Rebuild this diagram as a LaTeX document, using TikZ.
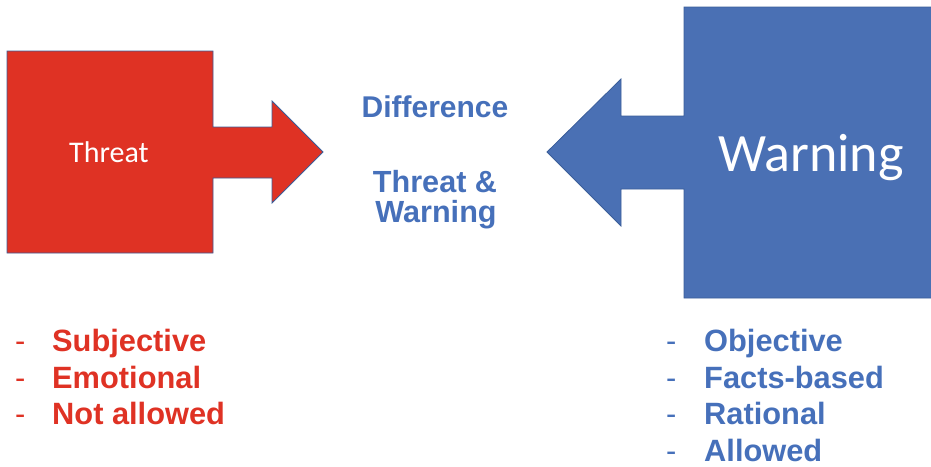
\documentclass[tikz,border=0pt]{standalone}
\usepackage{fontspec}
\setmainfont{Liberation Sans}
\newfontfamily\calib{Carlito}
\definecolor{tred}{HTML}{DF3224}
\definecolor{wblue}{HTML}{4A70B4}
\definecolor{edgeblue}{HTML}{3A5D99}
\definecolor{txtblue}{HTML}{4670BA}
\tikzset{
  shapered/.style={fill=tred, draw=edgeblue, line width=0.8pt, line join=miter},
  shapeblue/.style={fill=wblue, draw=edgeblue, line width=0.8pt, line join=miter},
  redtxt/.style={text=tred, font=\fontsize{30.8}{36}\selectfont\bfseries, anchor=base west, inner sep=0pt},
  bluetxt/.style={text=txtblue, font=\fontsize{30.8}{36}\selectfont\bfseries, anchor=base west, inner sep=0pt},
  reddash/.style={text=tred, font=\fontsize{30.8}{36}\selectfont, anchor=base west, inner sep=0pt},
  bluedash/.style={text=txtblue, font=\fontsize{30.8}{36}\selectfont, anchor=base west, inner sep=0pt},
  midtxt/.style={text=txtblue, font=\fontsize{30.6}{36}\selectfont\bfseries, anchor=base, inner sep=0pt}
}
\begin{document}
\begin{tikzpicture}[x=1pt,y=-1pt]
\useasboundingbox (0,0) rectangle (931,466);
% red threat shape
\draw[shapered] (7,51) -- (213,51) -- (213,127) -- (272,127) -- (272,101) -- (323,152)
  -- (272,203) -- (272,178) -- (213,178) -- (213,253) -- (7,253) -- cycle;
% blue warning shape
\draw[shapeblue] (935,7) -- (684,7) -- (684,116) -- (621,116) -- (621,79) -- (547,152)
  -- (621,226) -- (621,189) -- (684,189) -- (684,298) -- (935,298) -- cycle;
\node[text=white, font=\calib\fontsize{30}{36}\selectfont, anchor=base, inner sep=0pt] (threat) at (109,162) {Threat};
\node[text=white, font=\calib\fontsize{54}{64}\selectfont, anchor=base, inner sep=0pt] (warning) at (811,171) {Warning};
% middle text
\node[midtxt, font=\fontsize{30}{36}\selectfont\bfseries] (diff) at (435,117) {Difference};
\node[midtxt] (tw1) at (435,192) {Threat \&};
\node[midtxt] (tw2) at (436,222) {Warning};
% red list
\node[reddash] (rd1) at (15,351) {-};
\node[reddash] (rd2) at (15,388) {-};
\node[reddash] (rd3) at (15,424) {-};
\node[redtxt] (r1) at (52,351) {Subjective};
\node[redtxt] (r2) at (52,388) {Emotional};
\node[redtxt] (r3) at (52,424) {Not allowed};
% blue list
\node[bluedash] (bd1) at (666,351) {-};
\node[bluedash] (bd2) at (666,388) {-};
\node[bluedash] (bd3) at (666,424) {-};
\node[bluedash] (bd4) at (666,461) {-};
\node[bluetxt] (b1) at (704,351) {Objective};
\node[bluetxt] (b2) at (704,388) {Facts-based};
\node[bluetxt] (b3) at (704,424) {Rational};
\node[bluetxt] (b4) at (704,461) {Allowed};
\end{tikzpicture}
\end{document}
